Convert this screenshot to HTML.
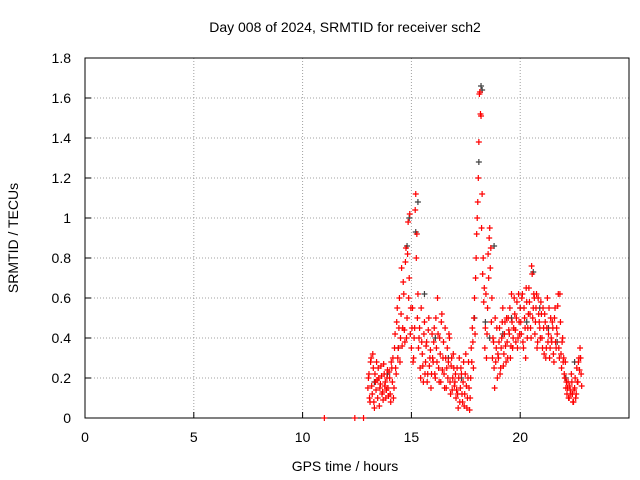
<!DOCTYPE html>
<html><head><meta charset="utf-8"><style>
body{margin:0;background:#fff}
svg{display:block;font-family:"Liberation Sans",sans-serif}
</style></head><body>
<svg id="chart" width="640" height="480" viewBox="0 0 640 480">
<rect x="0" y="0" width="640" height="480" fill="#fff"/>
<g id="grid"></g>
<g id="axes"></g>
<g id="marks"></g>
<text x="345" y="32" text-anchor="middle" font-size="14">Day 008 of 2024, SRMTID for receiver sch2</text>
<text x="345" y="471" text-anchor="middle" font-size="14">GPS time / hours</text>
<text x="18" y="238" text-anchor="middle" font-size="14" transform="rotate(-90 18 238)">SRMTID / TECUs</text>
</svg>
<script>
const xTicks=[0,5,10,15,20];
const yTicks=[0,0.2,0.4,0.6,0.8,1,1.2,1.4,1.6,1.8];
const yTickLabels=["0","0.2","0.4","0.6","0.8","1","1.2","1.4","1.6","1.8"];
const sampleStart=13.0;
const sampleStep=0.05;
const redA=[0.15,0.22,0.08,0.30,0.12,0.25,0.05,0.18,0.28,0.10,0.20,0.15,0.26,0.12,0.09,0.22,0.18,0.14,0.24,0.11,
0.20,0.08,0.25,0.30,0.15,0.42,0.22,0.55,0.35,0.60,0.40,0.75,0.45,0.62,0.38,0.85,0.50,0.98,0.70,0.42,
0.35,0.55,0.30,0.45,1.12,0.92,0.62,0.40,0.25,0.55,0.32,0.18,0.48,0.28,0.38,0.22,0.50,0.30,0.15,0.42,
0.28,0.45,0.20,0.35,0.60,0.25,0.40,0.18,0.52,0.30,0.22,0.45,0.15,0.35,0.28,0.40,0.12,0.30,0.20,0.25,
0.18,0.10,0.25,0.05,0.30,0.15,0.22,0.08,0.28,0.12,0.32,0.05,0.20,0.15,0.10,0.35,0.45,0.25,0.60,0.70,
0.92,1.08,1.38,1.63,1.51,1.12,0.80,0.65,0.45,0.30,0.55,0.70,0.95,0.85,0.60,0.40,0.25,0.50,0.35,0.20,
0.30,0.45,0.25,0.40,0.55,0.32,0.48,0.28,0.38,0.50,0.42,0.30,0.62,0.35,0.45,0.52,0.38,0.58,0.40,0.48,
0.55,0.42,0.62,0.35,0.50,0.30,0.58,0.45,0.65,0.52,0.40,0.72,0.55,0.60,0.48,0.62,0.38,0.52,0.45,0.58,
0.40,0.55,0.32,0.48,0.35,0.60,0.42,0.30,0.50,0.38,0.45,0.28,0.55,0.35,0.42,0.62,0.30,0.48,0.25,0.40,
0.30,0.20,0.15,0.12,0.18,0.10,0.14,0.22,0.12,0.08,0.15,0.10,0.25,0.18,0.30,0.35,0.22];
const redB=[0.20,0.10,0.28,0.16,0.32,0.08,0.22,0.14,0.19,0.25,0.06,0.17,0.21,0.13,0.27,0.16,0.10,0.20,0.15,0.23,
0.12,0.28,0.18,0.10,0.35,0.25,0.48,0.30,0.45,0.28,0.52,0.36,0.68,0.44,0.78,0.40,0.82,0.60,1.02,0.55,
0.45,0.28,0.40,1.04,0.80,0.50,0.35,0.45,0.20,0.38,0.26,0.42,0.22,0.36,0.18,0.44,0.26,0.34,0.22,0.30,
0.38,0.22,0.50,0.28,0.42,0.18,0.32,0.48,0.24,0.38,0.15,0.30,0.25,0.20,0.42,0.18,0.26,0.14,0.32,0.16,
0.22,0.14,0.12,0.20,0.08,0.25,0.12,0.18,0.06,0.22,0.16,0.10,0.28,0.04,0.20,0.28,0.38,0.50,0.42,0.80,
1.00,1.20,1.62,1.52,0.95,0.72,0.58,0.35,0.62,0.42,0.82,0.90,0.75,0.48,0.30,0.38,0.15,0.28,0.45,0.32,
0.38,0.22,0.35,0.48,0.26,0.42,0.36,0.50,0.30,0.44,0.55,0.36,0.48,0.40,0.60,0.44,0.50,0.35,0.62,0.42,
0.48,0.60,0.38,0.55,0.45,0.65,0.40,0.52,0.58,0.45,0.76,0.50,0.62,0.42,0.55,0.35,0.60,0.48,0.40,0.52,
0.35,0.45,0.52,0.30,0.45,0.38,0.55,0.35,0.40,0.48,0.32,0.50,0.38,0.45,0.56,0.35,0.62,0.32,0.38,0.28,
0.22,0.28,0.18,0.15,0.10,0.16,0.12,0.18,0.08,0.14,0.20,0.12,0.18,0.28,0.24,0.30,0.16];
const zeroTimes=[11.0,12.4,12.8];
const grayT=[13.3,13.9,14.4,14.8,14.9,15.2,15.3,15.6,16.1,16.7,17.3,17.9,18.1,18.2,18.25,18.4,18.6,18.8,19.2,19.6,20.0,20.3,20.6,20.9,21.3,21.7,22.1,22.5];
const grayV=[0.18,0.22,0.35,0.86,1.0,0.93,1.08,0.62,0.40,0.30,0.20,0.50,1.28,1.66,1.64,0.48,0.40,0.86,0.42,0.50,0.55,0.48,0.73,0.55,0.45,0.38,0.20,0.28];

const NS="http://www.w3.org/2000/svg";
const L=85,R=629,T=58,B=418,xMax=25,yMax=1.8;
function xs(t){return L+(R-L)*t/xMax;}
function ys(v){return B-(B-T)*v/yMax;}
function mk(tag,attrs,parent){const e=document.createElementNS(NS,tag);for(const k in attrs)e.setAttribute(k,attrs[k]);parent.appendChild(e);return e;}
const grid=document.getElementById('grid'),axes=document.getElementById('axes'),marks=document.getElementById('marks');
xTicks.forEach(t=>{
  if(t>0){const g=mk('line',{x1:xs(t),x2:xs(t),y1:T,y2:B,stroke:'#a0a0a0','stroke-dasharray':'1,2'},grid);
  
  }
  const tk=mk('line',{x1:xs(t),x2:xs(t),y1:B,y2:B-6,stroke:'#000'},axes);
  
  
  const lb=mk('text',{x:xs(t),y:B+24,'text-anchor':'middle','font-size':'14'},axes);lb.textContent=t;
  
  
});
yTicks.forEach((v,i)=>{
  if(v>0&&v<yMax){const g=mk('line',{x1:L,x2:R,y1:ys(v),y2:ys(v),stroke:'#a0a0a0','stroke-dasharray':'1,2'},grid);
  
  }
  const tk=mk('line',{x1:L,x2:L+6,y1:ys(v),y2:ys(v),stroke:'#000'},axes);
  
  
  const lb=mk('text',{x:L-14,y:ys(v)+5,'text-anchor':'end','font-size':'14'},axes);lb.textContent=yTickLabels[i];
  
  
});
const frame=mk('rect',{x:L,y:T,width:R-L,height:B-T,fill:'none',stroke:'#000'},axes);


function plus(t,v,col,name){
  const x=xs(t),y=ys(v);
  const p=mk('path',{d:`M${x-3},${y}H${x+3}M${x},${y-3}V${y+3}`,stroke:col,'stroke-width':'1.2',fill:'none'},marks);
  
  
}
grayT.forEach((t,i)=>plus(t,grayV[i],'#404040','gray-point'));
redA.forEach((v,i)=>plus(sampleStart+i*sampleStep,v,'#ff0000','red-point'));
redB.forEach((v,i)=>plus(sampleStart+i*sampleStep+0.025,v,'#ff0000','red-point'));
zeroTimes.forEach(t=>plus(t,0,'#ff0000','red-point-zero'));
</script>
</body></html>
